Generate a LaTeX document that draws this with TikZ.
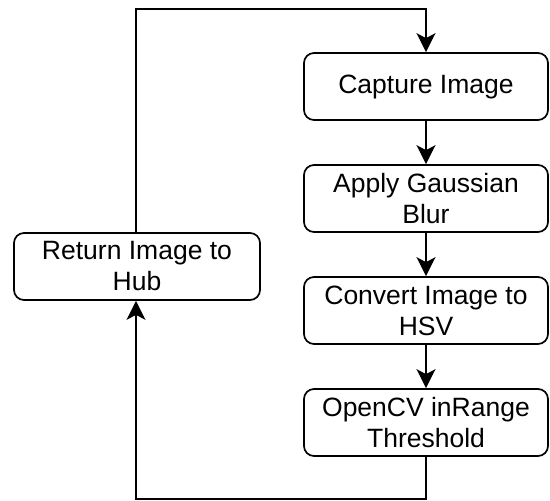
\documentclass[tikz,border=0pt]{standalone}
\usepackage{fontspec}
\setmainfont{Liberation Sans}
\usetikzlibrary{arrows.meta}
\begin{document}
\begin{tikzpicture}[x=1pt,y=-1pt,
  stepbox/.style={draw, line width=1.7pt, rounded corners=10pt, minimum width=244pt,
    minimum height=67pt, align=center, inner sep=2pt,
    font=\fontsize{26.5}{31}\selectfont},
  flow/.style={line width=1.7pt, -{Stealth[length=19pt,width=19pt,inset=5pt]}},
  loopline/.style={line width=1.7pt}]
\useasboundingbox (0,0) rectangle (550,501);
\node[stepbox] (cap) at (426,86.5) {Capture Image};
\node[stepbox] (blur) at (426,198.5) {Apply Gaussian\\Blur};
\node[stepbox] (hsv) at (426,310.5) {Convert Image to\\HSV};
\node[stepbox] (thr) at (426,422.5) {OpenCV inRange\\Threshold};
\node[stepbox, minimum width=246pt] (hub) at (137,266.5) {Return Image to\\Hub};
\coordinate (tl) at (136,9);
\coordinate (tr) at (426,9);
\coordinate (bl) at (136,499);
\coordinate (br) at (426,499);
\draw[flow] (cap) -- (blur);
\draw[flow] (blur) -- (hsv);
\draw[flow] (hsv) -- (thr);
\draw[flow] (thr.south) -- (br) -- (bl) -- (hub.south -| bl);
\draw[flow] (hub.north -| tl) -- (tl) -- (tr) -- (cap.north);
\end{tikzpicture}
\end{document}
